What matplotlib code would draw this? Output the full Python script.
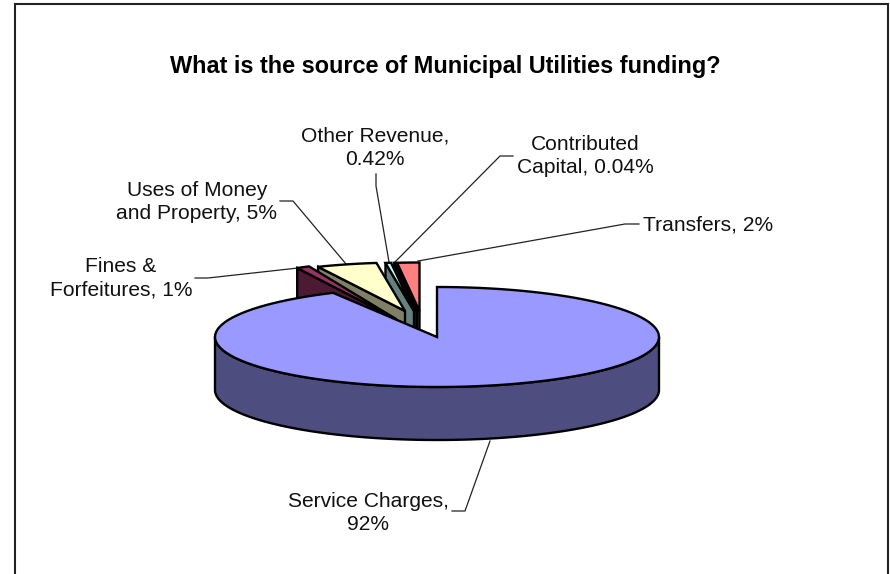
import numpy as np
import matplotlib
matplotlib.use('Agg')
import matplotlib.pyplot as plt
from matplotlib.patches import Polygon

plt.rcParams['font.family'] = ['Liberation Sans', 'DejaVu Sans']

title = 'What is the source of Municipal Utilities funding?'
categories = ['Service Charges', 'Fines & Forfeitures', 'Uses of Money and Property',
              'Other Revenue', 'Contributed Capital', 'Transfers']
# labels are rounded, these are estimates that add up to the drawn angles
shares = [92.24, 1.0, 4.6, 0.42, 0.04, 1.7]
share_labels = ['Service Charges,\n92%', 'Fines &\nForfeitures, 1%', 'Uses of Money\nand Property, 5%',
                'Other Revenue,\n0.42%', 'Contributed\nCapital, 0.04%', 'Transfers, 2%']

# colours per slice, top face and cut face
top_colors = ['#9999ff', '#993366', '#ffffcc', '#ccffff', '#660066', '#ff8080']
side_colors = ['#4d4d80', '#4d1a33', '#808066', '#668080', '#330033', '#804040']

# pie layout in pixels
cx, cy = 437, 337
rx, ry = 222, 50
depth = 53
# exploded slices: tip x, tip y, and vertical scale of the radius
back_x = 0.95
tips = {1: (396, 319, 1.155), 2: (405, 311, 0.97), 3: (414, 311, 0.97),
        4: (417, 311, 0.97), 5: (419.5, 311, 0.97)}

# label position, alignment, leader line
label_pos = [(368, 513, 'center'), (121, 278, 'center'), (197, 202, 'center'),
             (375, 148, 'center'), (585, 156, 'center'), (643, 225, 'left')]
leaders = [[(452, 511), (465, 511), (490, 441)],
           [(195, 278), (208, 278), (307, 267)],
           [(280, 201), (293, 201), (346, 264)],
           [(376, 174), (376, 186), (389, 262)],
           [(513, 156), (500, 156), (395, 262)],
           [(639, 224), (625, 224), (418, 261)]]

fig = plt.figure(figsize=(8.9, 5.74), dpi=100)
ax = fig.add_axes([0, 0, 1, 1])
ax.set_xlim(0, 890)
ax.set_ylim(574, 0)
ax.axis('off')

# outer frame, open at the bottom
ax.plot([15, 15, 887.5, 887.5], [574, 4, 4, 574], color='#222222', lw=1.5, solid_joinstyle='miter')

# angles run clockwise from 12 o'clock
edges = np.cumsum([0] + shares) / sum(shares) * 2 * np.pi


def rim(a, b, x0, y0, sx=1.0, sy=1.0):
    t = np.linspace(a, b, 120)
    return np.column_stack([x0 + rx * sx * np.sin(t), y0 - ry * sy * np.cos(t)])


def add(pts, color, z):
    ax.add_patch(Polygon(pts, closed=True, facecolor=color, edgecolor='black',
                         lw=1.7, joinstyle='miter', zorder=z))


# small slices, back to front, then the big one over their lower parts
for z, i in enumerate([5, 4, 3, 2, 1]):
    x0, y0, back_y = tips[i]
    arc = rim(edges[i], edges[i + 1], x0, y0, back_x, back_y)
    cut = np.array([arc[0], (x0, y0), (x0, y0 + depth), arc[0] + (0, depth)])
    add(cut, side_colors[i], 2 + z)
    add(np.vstack([[(x0, y0)], arc]), top_colors[i], 2 + z)

front = rim(np.pi / 2, 3 * np.pi / 2, cx, cy)
side = np.vstack([front, (front + (0, depth))[::-1]])
add(side, side_colors[0], 10)
add(np.vstack([[(cx, cy)], rim(edges[0], edges[1], cx, cy)]), top_colors[0], 11)

for pts in leaders:
    xs, ys = zip(*pts)
    ax.plot(xs, ys, color='#222222', lw=0.9, zorder=1)

for lab, (x, y, ha) in zip(share_labels, label_pos):
    ax.text(x, y, lab, ha=ha, va='center', fontsize=15.1, color='#111111', linespacing=1.28, zorder=12)

ax.text(445, 66, title, ha='center', va='center', fontsize=16.95, fontweight='bold', color='black')

fig.savefig('out.png', dpi=100)
